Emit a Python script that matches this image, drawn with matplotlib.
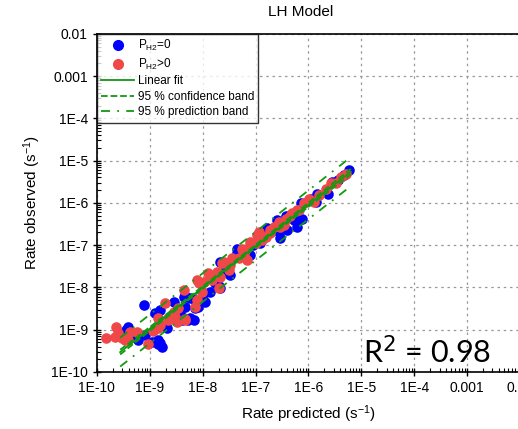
import numpy as np
from matplotlib import pyplot as plt
from matplotlib.lines import Line2D
from matplotlib.ticker import FixedLocator, FixedFormatter, LogLocator, NullFormatter

plt.rcParams['font.family'] = ['Liberation Sans', 'DejaVu Sans']
plt.rcParams['mathtext.fontset'] = 'custom'
plt.rcParams['mathtext.rm'] = 'Liberation Sans'
plt.rcParams['mathtext.it'] = 'Liberation Sans:italic'

# log10 of (predicted, observed) rates
blue_log_pred = [-9.45, -9.41, -9.31, -9.23, -9.09, -9.10, -8.95, -8.84, -8.84, -8.87,
                 -8.80, -8.77, -8.90, -8.80, -8.68, -8.55, -8.43, -8.33, -8.33, -8.24,
                 -8.17, -8.14, -8.14, -7.98, -7.95, -7.86, -7.76, -7.67, -7.60, -7.70,
                 -7.67, -7.48, -7.32, -7.35, -7.10, -6.78, -6.59, -6.53, -6.40, -6.43,
                 -6.15, -5.86, -5.83, -5.64, -5.33, -5.23,
                 -8.36, -8.08, -8.27, -8.39, -8.24, -7.35, -6.91, -6.56, -6.50, -6.28,
                 -6.21, -6.12, -7.05, -5.95, -5.55, -5.45]
blue_log_obs = [-9.00, -8.93, -9.15, -9.24, -9.13, -8.42, -9.30, -9.24, -9.34, -9.28,
                -9.31, -9.40, -8.61, -8.53, -8.97, -8.34, -8.61, -8.46, -8.21, -8.73,
                -8.77, -8.30, -8.49, -8.14, -8.34, -8.10, -7.90, -8.02, -7.63, -7.97,
                -7.39, -7.71, -7.12, -7.18, -7.23, -6.60, -6.41, -6.84, -6.64, -6.32,
                -6.01, -5.97, -5.78, -5.78, -5.34, -5.22,
                -8.22, -8.46, -8.77, -8.77, -8.26, -7.08, -6.96, -6.68, -6.48, -6.40,
                -6.56, -6.37, -7.00, -5.90, -5.50, -5.45]

red_log_pred = [-9.83, -9.66, -9.63, -9.60, -9.53, -9.47, -9.41, -9.37, -9.25, -9.04,
                -8.93, -8.84, -8.84, -8.72, -8.66, -8.55, -8.52, -8.46, -8.36, -8.34,
                -8.33, -8.11, -8.06, -7.98, -7.89, -7.86, -7.82, -7.70, -7.67, -7.63,
                -7.60, -7.51, -7.48, -7.45, -7.32, -7.19, -7.16, -7.10, -7.00, -6.97,
                -6.88, -6.72, -6.72, -6.56, -6.53, -6.47, -6.43, -6.31, -6.21, -6.09,
                -5.99, -5.90, -5.80, -5.67, -5.58, -5.48, -5.39, -5.29,
                -8.02, -8.11, -8.14, -8.49, -8.80, -8.65, -7.73, -7.26, -6.94, -6.66,
                -6.18, -7.22, -6.80, -6.35]
red_log_obs = [-9.20, -9.17, -8.94, -9.09, -9.20, -9.24, -9.24, -9.05, -9.05, -9.35,
               -9.02, -8.97, -8.73, -8.38, -8.77, -8.57, -8.69, -8.49, -8.06, -8.75,
               -8.77, -7.83, -7.90, -7.87, -7.67, -7.75, -7.83, -8.02, -7.75, -7.43,
               -7.39, -7.59, -7.47, -7.31, -7.31, -7.08, -7.35, -6.92, -6.96, -6.76,
               -6.88, -6.64, -6.72, -6.45, -6.56, -6.53, -6.37, -6.25, -6.17, -6.01,
               -5.90, -5.97, -5.82, -5.66, -5.54, -5.54, -5.38, -5.31,
               -8.10, -8.30, -8.46, -8.81, -8.89, -8.73, -7.63, -7.08, -6.68, -6.56,
               -6.17, -7.20, -6.80, -6.30]

tick_vals = [1e-10, 1e-9, 1e-8, 1e-7, 1e-6, 1e-5, 1e-4, 1e-3, 1e-2]
tick_labels = ["1E-10", "1E-9", "1E-8", "1E-7", "1E-6", "1E-5", "1E-4", "0.001", "0.01"]

r2_shown = 0.98                # as printed on the chart
fit_lo, fit_hi = -9.56, -5.2   # x range the fit was drawn over
s_fit = 0.17                   # residual std (decades)
t_val = 1.98                   # ~95 % two sided

# linear fit in log space, with bands
lx = np.array(blue_log_pred + red_log_pred)
ly = np.array(blue_log_obs + red_log_obs)
n = len(lx)
b, a = np.polyfit(lx, ly, 1)
sxx = np.sum((lx - lx.mean())**2)
xf = np.linspace(fit_lo, fit_hi, 100)
yf = a + b*xf
conf = t_val*s_fit*np.sqrt(1/n + (xf - lx.mean())**2/sxx)
pred = t_val*s_fit*np.sqrt(1 + 1/n + (xf - lx.mean())**2/sxx)

fig = plt.figure(figsize=(5.18, 4.29), dpi=100)
ax = fig.add_axes([0.187, 0.133, 0.817, 0.788])

green = "#119911"
ax.plot(10**xf, 10**yf, "-", color=green, lw=1.3, zorder=4)
ax.plot(10**xf, 10**(yf + conf), "--", color=green, lw=1.3, zorder=4)
ax.plot(10**xf, 10**(yf - conf), "--", color=green, lw=1.3, zorder=4)
ax.plot(10**xf, 10**(yf + pred), "-.", color=green, lw=1.3, dashes=(5, 4, 1, 4), zorder=4)
ax.plot(10**xf, 10**(yf - pred), "-.", color=green, lw=1.3, dashes=(5, 4, 1, 4), zorder=4)

ax.scatter(10**np.array(blue_log_pred), 10**np.array(blue_log_obs), s=58,
           color="#0000ff", lw=0, zorder=2)
ax.scatter(10**np.array(red_log_pred), 10**np.array(red_log_obs), s=58,
           color="#f04848", lw=0, zorder=3)

ax.set_xscale("log")
ax.set_yscale("log")
ax.set_xlim(1e-10, 1e-2)
ax.set_ylim(1e-10, 1e-2)
for axis in (ax.xaxis, ax.yaxis):
    axis.set_major_locator(FixedLocator(tick_vals))
    axis.set_major_formatter(FixedFormatter(tick_labels))
    axis.set_minor_locator(LogLocator(base=10, subs=np.arange(2, 10), numticks=20))
    axis.set_minor_formatter(NullFormatter())
ax.tick_params(which="major", direction="inout", length=6, width=1, labelsize=10)
ax.tick_params(which="minor", direction="in", length=3, width=0.8)
ax.grid(True, which="major", ls=(0, (2, 3)), color="#999999", lw=0.9)
for sp in ax.spines.values():
    sp.set_linewidth(1.2)

ax.set_xlabel("Rate predicted (s$^{-1}$)", fontsize=11, labelpad=6)
ax.set_ylabel("Rate observed (s$^{-1}$)", fontsize=11, labelpad=6)
fig.text(0.58, 0.972, "LH Model", ha="center", va="center", fontsize=11)

ax.text(0.947, 0.153, "R$^2$ = %.2f" % r2_shown, transform=fig.transFigure, ha="right",
        va="baseline", fontsize=22, family=["Lato", "DejaVu Sans"],
        math_fontfamily="dejavusans")

handles = [
    Line2D([], [], ls="none", marker="o", ms=7, color="#0000ff"),
    Line2D([], [], ls="none", marker="o", ms=7, color="#f04848"),
    Line2D([], [], ls="-", color=green, lw=1.3),
    Line2D([], [], ls="--", color=green, lw=1.3),
    Line2D([], [], ls="-.", color=green, lw=1.3, dashes=(5, 4, 1, 4)),
]
labels = ["P$_{\\mathrm{H2}}$=0", "P$_{\\mathrm{H2}}$>0", "Linear fit",
          "95 % confidence band", "95 % prediction band"]
leg = ax.legend(handles, labels, loc="upper left", fontsize=8.5, frameon=True,
                fancybox=False, borderaxespad=0, handlelength=2.8, handletextpad=0.3,
                labelspacing=0.3, borderpad=0.35)
leg.get_frame().set_edgecolor("black")
leg.get_frame().set_linewidth(1.0)

fig.savefig("out.png", dpi=100)
